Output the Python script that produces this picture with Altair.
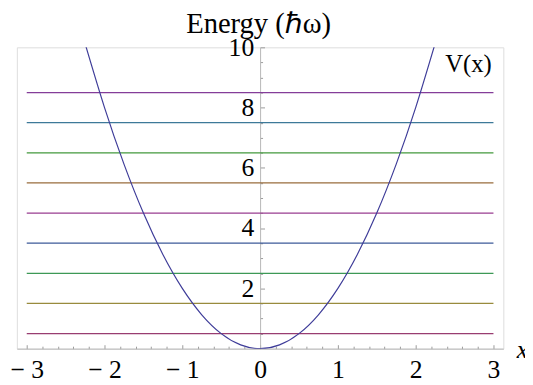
import altair as alt
import pandas as pd

# ---- data ----
levels = [0.5, 1.5, 2.5, 3.5, 4.5, 5.5, 6.5, 7.5, 8.5]
level_colors = ["#993D71", "#998B3D", "#3D9956", "#3D5A99", "#993D90",
                "#996C3D", "#43993D", "#3D7999", "#843D99"]
level_x_start = [-3] * len(levels)
level_x_end = [3] * len(levels)

curve_x = [-2.25, -2.0, -1.75, -1.5, -1.25, -1.0, -0.75, -0.5, -0.25, 0.0,
           0.25, 0.5, 0.75, 1.0, 1.25, 1.5, 1.75, 2.0, 2.25]
curve_y = [10.125, 8.0, 6.125, 4.5, 3.125, 2.0, 1.125, 0.5, 0.125, 0.0,
           0.125, 0.5, 1.125, 2.0, 3.125, 4.5, 6.125, 8.0, 10.125]

x_ticks = [-3, -2.8, -2.6, -2.4, -2.2, -2, -1.8, -1.6, -1.4, -1.2, -1,
           -0.8, -0.6, -0.4, -0.2, 0, 0.2, 0.4, 0.6, 0.8, 1, 1.2, 1.4,
           1.6, 1.8, 2, 2.2, 2.4, 2.6, 2.8, 3]
y_ticks = [0.5, 1, 1.5, 2, 2.5, 3, 3.5, 4, 4.5, 5, 5.5, 6, 6.5, 7, 7.5,
           8, 8.5, 9, 9.5, 10]

label_text = ["V(x)"]
label_x = [2.68]
label_y = [9.44]

x_domain = [-3.127, 3.127]
y_domain = [0, 10]

W, H = 494, 306
FONT = "Liberation Serif"

levels_df = pd.DataFrame({"x1": level_x_start, "x2": level_x_end,
                          "y": levels, "c": level_colors})
curve_df = pd.DataFrame({"x": curve_x, "y": curve_y})
label_df = pd.DataFrame({"x": label_x, "y": label_y, "t": label_text})

xscale = alt.Scale(domain=x_domain, nice=False, zero=False)
yscale = alt.Scale(domain=y_domain, nice=False, zero=False)

x_int = "abs(datum.value - round(datum.value)) < 0.001"
y_major = "abs(datum.value/2 - round(datum.value/2)) < 0.001"

xaxis = alt.Axis(
    orient="top", offset=-H, values=x_ticks, grid=False,
    title="x", titleX=W + 13, titleY=1, titleAngle=0, titleAlign="left",
    titleBaseline="middle", titleFont=FONT, titleFontSize=26,
    titleFontStyle="italic", titleFontWeight="normal", titleColor="black",
    domainColor="#b8b8b8", domainWidth=1, tickColor="#9a9a9a", tickWidth=1,
    tickSize={"condition": {"test": x_int, "value": 4}, "value": 2.5},
    labelExpr=f"{x_int} ? (datum.value < 0 ? '\u2212 ' + format(abs(datum.value), 'd') : format(datum.value, 'd')) : ''",
    labelFont=FONT, labelFontSize=26, labelColor="black",
    labelBaseline="top", labelAlign="center", labelPadding=-12,
    labelOverlap=False, labelFlush=False,
)

yaxis = alt.Axis(
    orient="right", offset=-W / 2, values=y_ticks, grid=False,
    title="Energy (\u210f\u03c9)", titleX=-2, titleY=-15, titleAngle=0,
    titleAlign="center", titleBaseline="alphabetic", titleFont=FONT,
    titleFontSize=29, titleFontWeight="normal", titleColor="black",
    domainColor="#b8b8b8", domainWidth=1, tickColor="#9a9a9a", tickWidth=1,
    tickSize={"condition": {"test": y_major, "value": 4.5}, "value": 2.5},
    labelExpr=f"{y_major} && datum.value > 0 ? format(datum.value, 'd') : ''",
    labelFont=FONT, labelFontSize=26, labelColor="black",
    labelAlign="right", labelBaseline="middle", labelPadding=-11,
    labelOverlap=False, labelFlush=False,
)

rules = alt.Chart(levels_df).mark_rule(strokeWidth=1.3).encode(
    x=alt.X("x1:Q", scale=xscale, axis=xaxis),
    x2="x2:Q",
    y=alt.Y("y:Q", scale=yscale, axis=yaxis),
    color=alt.Color("c:N", scale=None),
)

curve = alt.Chart(curve_df).mark_line(
    color="#3F3D99", strokeWidth=1.2, interpolate="natural", clip=True
).encode(
    x=alt.X("x:Q", scale=xscale, axis=xaxis),
    y=alt.Y("y:Q", scale=yscale, axis=yaxis),
)

label = alt.Chart(label_df).mark_text(
    font=FONT, fontSize=25, color="black", align="center", baseline="middle"
).encode(
    x=alt.X("x:Q", scale=xscale, axis=xaxis),
    y=alt.Y("y:Q", scale=yscale, axis=yaxis),
    text="t:N",
)

chart = alt.layer(rules, curve, label).properties(
    width=W, height=H,
    autosize=alt.AutoSizeParams(type="none"),
    padding={"left": 9, "top": 37, "right": 22, "bottom": 36},
).configure_view(stroke=None).configure(background="white")

chart.save("out.html", embed_options={"renderer": "svg", "actions": False})
